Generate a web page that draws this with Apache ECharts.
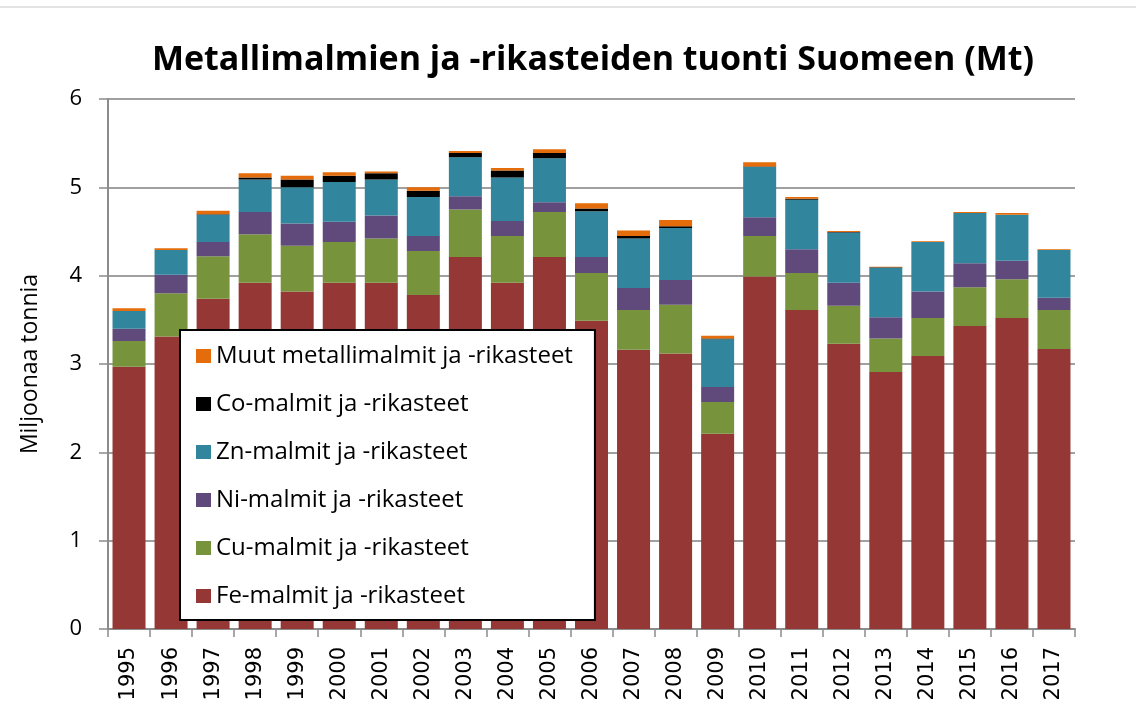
<!DOCTYPE html>
<html>
<head>
<meta charset="utf-8">
<script src="https://cdn.jsdelivr.net/npm/echarts@6/dist/echarts.min.js"></script>
<style>
  html, body { margin: 0; padding: 0; background: #fff; }
  #chart { width: 1136px; height: 717px; }
</style>
</head>
<body>
<div id="chart"></div>
<script>
const years = ['1995','1996','1997','1998','1999','2000','2001','2002','2003','2004','2005','2006',
  '2007','2008','2009','2010','2011','2012','2013','2014','2015','2016','2017'];
const fe   = [2.97,3.31,3.74,3.92,3.82,3.92,3.92,3.78,4.21,3.92,4.21,3.49,3.16,3.12,2.21,3.99,3.61,3.23,2.91,3.09,3.43,3.52,3.17];
const cu   = [0.29,0.49,0.48,0.55,0.52,0.46,0.50,0.50,0.54,0.53,0.51,0.54,0.45,0.55,0.36,0.46,0.42,0.43,0.38,0.43,0.44,0.44,0.44];
const ni   = [0.14,0.21,0.16,0.25,0.25,0.23,0.26,0.17,0.15,0.17,0.11,0.18,0.25,0.28,0.17,0.21,0.27,0.26,0.24,0.30,0.27,0.21,0.14];
const zn   = [0.20,0.28,0.31,0.37,0.41,0.45,0.41,0.44,0.44,0.49,0.50,0.52,0.56,0.59,0.54,0.57,0.56,0.57,0.56,0.56,0.57,0.52,0.54];
const co   = [0.00,0.00,0.005,0.02,0.09,0.07,0.07,0.07,0.05,0.08,0.06,0.03,0.03,0.02,0.01,0.005,0.01,0.005,0.005,0.00,0.00,0.00,0.00];
const muut = [0.03,0.02,0.04,0.05,0.04,0.04,0.02,0.04,0.02,0.03,0.04,0.06,0.06,0.07,0.03,0.05,0.02,0.01,0.005,0.01,0.01,0.02,0.01];

const names = ['Fe-malmit ja -rikasteet','Cu-malmit ja -rikasteet','Ni-malmit ja -rikasteet',
  'Zn-malmit ja -rikasteet','Co-malmit ja -rikasteet','Muut metallimalmit ja -rikasteet'];
const colors = ['#953735','#77933c','#604a7b','#31859c','#000000','#e46c0a'];
const values = [fe, cu, ni, zn, co, muut];

const chart = echarts.init(document.getElementById('chart'));
const series = values.map((d, i) => ({
  name: names[i],
  type: 'bar',
  stack: 'total',
  data: d,
  barWidth: 33,
  itemStyle: { color: colors[i] }
}));

chart.setOption({
  animation: false,
  title: {
    text: 'Metallimalmien ja -rikasteiden tuonti Suomeen (Mt)',
    left: 588,
    textAlign: 'center',
    top: 38,
    textStyle: { fontFamily: 'Open Sans', fontWeight: 'bold', fontSize: 34, color: '#000' }
  },
  legend: {
    orient: 'vertical',
    left: 180,
    top: 330,
    data: names.slice().reverse(),
    backgroundColor: '#fff',
    borderColor: '#000',
    borderWidth: 2,
    padding: [14, 22, 12, 16],
    itemWidth: 15,
    itemHeight: 14,
    itemGap: 24,
    icon: 'rect',
    selectedMode: false,
    textStyle: { fontFamily: 'Open Sans', fontSize: 24, lineHeight: 24, color: '#000' }
  },
  grid: { left: 108, right: 61, top: 99, bottom: 88, containLabel: false },
  xAxis: {
    type: 'category',
    data: years,
    axisLine: { lineStyle: { color: '#8c8c8c', width: 2 } },
    axisTick: { show: true, length: 8, lineStyle: { color: '#8c8c8c', width: 1.5 } },
    axisLabel: { rotate: 90, interval: 0, margin: 18, fontFamily: 'DejaVu Sans', fontSize: 21, color: '#000' }
  },
  yAxis: {
    type: 'value',
    min: 0,
    max: 6,
    interval: 1,
    name: 'Miljoonaa tonnia',
    nameLocation: 'middle',
    nameGap: 66,
    nameTextStyle: { fontFamily: 'Open Sans', fontSize: 23, color: '#000' },
    axisLine: { show: true, lineStyle: { color: '#8c8c8c', width: 2 } },
    axisTick: { show: true, length: 9, lineStyle: { color: '#8c8c8c', width: 1.5 } },
    axisLabel: { margin: 26, fontFamily: 'Open Sans', fontSize: 22, color: '#000' },
    splitLine: { lineStyle: { color: '#a0a0a0', width: 2 } }
  },
  graphic: [{
    type: 'line',
    shape: { x1: 0, y1: 7, x2: 1136, y2: 7 },
    style: { stroke: '#c8c8c8', lineWidth: 1 }
  }],
  series: series
});
</script>
</body>
</html>
